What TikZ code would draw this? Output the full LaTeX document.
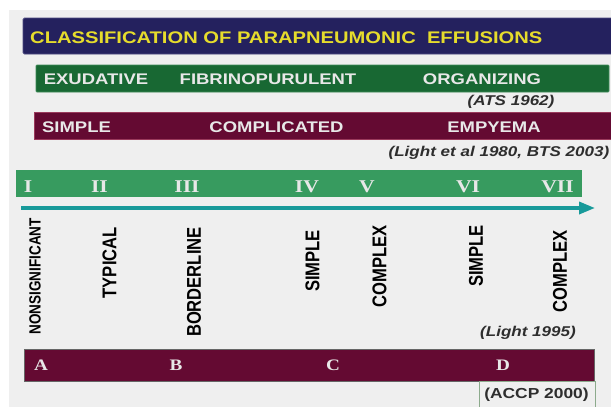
\documentclass[tikz,border=0pt]{standalone}
\usepackage{fontspec}
\usepackage{graphicx}
\usetikzlibrary{arrows.meta}
\setmainfont{Liberation Sans}
\newfontfamily\wsans{Liberation Sans}[FakeStretch=1.2]
\newfontfamily\wserif{Liberation Serif}[FakeStretch=1.2]
\newfontfamily\psans{Liberation Sans}
\definecolor{bggray}{HTML}{EFEFEF}
\definecolor{navy}{HTML}{24215E}
\definecolor{navyedge}{HTML}{4C4A80}
\definecolor{titleyellow}{HTML}{E6DC2C}
\definecolor{dgreen}{HTML}{186833}
\definecolor{dgreenedge}{HTML}{3E8A58}
\definecolor{maroon}{HTML}{640A32}
\definecolor{maroonedge}{HTML}{9A3A5C}
\definecolor{mgreen}{HTML}{379B5F}
\definecolor{teal}{HTML}{189A9A}
\definecolor{bartext}{HTML}{E8E8E8}
\definecolor{cite}{HTML}{2E2E2E}
\definecolor{boxedge}{HTML}{8CAA8C}
\tikzset{
  bar/.style={rectangle, anchor=north west, inner sep=0pt, outer sep=0pt},
  titletext/.style={inner sep=0pt, text=titleyellow, font=\wsans\bfseries\fontsize{16.8}{18}\selectfont},
  bartxt/.style={inner sep=0pt, anchor=base, text=bartext, font=\wsans\bfseries\fontsize{15.4}{17}\selectfont},
  numtxt/.style={inner sep=0pt, anchor=base, text=bartext, font=\wserif\bfseries\fontsize{18}{20}\selectfont},
  lettxt/.style={inner sep=0pt, anchor=center, text=bartext, font=\wserif\bfseries\fontsize{16}{18}\selectfont},
  citetxt/.style={inner sep=0pt, text=cite, font=\wsans\bfseries\itshape\fontsize{14.2}{16}\selectfont},
  vlabel/.style={inner sep=0pt, rotate=90, anchor=east, text=black, font=\psans\bfseries\fontsize{16.6}{18}\selectfont},
  axisarrow/.style={draw=teal, line width=3.5pt, -{Triangle[length=16pt,width=12pt]}},
}
\begin{document}
\begin{tikzpicture}[x=1pt,y=-1pt]
\path[use as bounding box, clip] (0,0) rectangle (611,407);
\fill[bggray] (8.5,10) rectangle (620,420);
% title bar
\node[bar, fill=navy, draw=navyedge, line width=0.8pt, rounded corners=1.5pt,
      minimum width=600pt, minimum height=36pt] (title) at (23,18) {};
\node[titletext, anchor=base west] (titlet) at (30,43) {CLASSIFICATION OF PARAPNEUMONIC\ \ EFFUSIONS};
% ATS bar
\node[bar, fill=dgreen, draw=dgreenedge, line width=0.8pt, rounded corners=1pt,
      minimum width=573pt, minimum height=27pt] (ats) at (36,65) {};
\node[bartxt] (exu) at (96,84) {EXUDATIVE};
\node[bartxt] (fib) at (268,84) {FIBRINOPURULENT};
\node[bartxt] (org) at (482,84) {ORGANIZING};
\node[citetxt] (atsc) at (511,101.5) {(ATS 1962)};
% Light/BTS bar
\node[bar, fill=maroon, draw=maroonedge, line width=0.8pt,
      minimum width=590pt, minimum height=27pt] (light) at (34,112) {};
\node[bartxt] (sim) at (76.5,132) {SIMPLE};
\node[bartxt] (com) at (276.5,132) {COMPLICATED};
\node[bartxt] (emp) at (494,132) {EMPYEMA};
\node[citetxt, anchor=east] (lightc) at (609.5,152.5) {(Light et al 1980, BTS 2003)};
% Light 1995 bar
\node[bar, fill=mgreen, minimum width=566pt, minimum height=27pt] (cls) at (16,170) {};
\node[numtxt] (n1) at (28,192) {I};
\node[numtxt] (n2) at (99.5,192) {II};
\node[numtxt] (n3) at (187,192) {III};
\node[numtxt] (n4) at (307,192) {IV};
\node[numtxt] (n5) at (367,192) {V};
\node[numtxt] (n6) at (468,192) {VI};
\node[numtxt] (n7) at (557.5,192) {VII};
\coordinate (axs) at (21,208);
\coordinate (axe) at (595,208);
\draw[axisarrow] (axs) -- (axe);
\node[vlabel, font=\psans\bfseries\fontsize{13.5}{15}\selectfont] (v1) at (35,218) {\scalebox{1}[1.2]{NONSIGNIFICANT}};
\node[vlabel] (v2) at (109.5,227) {\scalebox{1}[1.2]{TYPICAL}};
\node[vlabel] (v3) at (194,227) {\scalebox{1}[1.2]{BORDERLINE}};
\node[vlabel] (v4) at (312.5,230) {\scalebox{1}[1.2]{SIMPLE}};
\node[vlabel] (v5) at (379.5,225) {\scalebox{1}[1.2]{COMPLEX}};
\node[vlabel] (v6) at (476,225) {\scalebox{1}[1.2]{SIMPLE}};
\node[vlabel] (v7) at (560,230) {\scalebox{1}[1.2]{COMPLEX}};
\node[citetxt] (l95) at (528,333) {(Light 1995)};
% ACCP bar
\node[bar, fill=maroon, draw=black!60, line width=0.6pt,
      minimum width=570pt, minimum height=32pt] (accp) at (24,349) {};
\node[lettxt] (la) at (41,365) {A};
\node[lettxt] (lb) at (176,365) {B};
\node[lettxt] (lc) at (333,365) {C};
\node[lettxt] (ld) at (503,365) {D};
\node[bar, draw=boxedge, line width=0.8pt, fill=bggray,
      minimum width=116pt, minimum height=35pt] (accpbox) at (479,381.5) {};
\node[inner sep=0pt, text=cite, font=\wsans\bfseries\fontsize{14.5}{16}\selectfont] (accpt) at (536.5,395) {(ACCP 2000)};
\end{tikzpicture}
\end{document}
